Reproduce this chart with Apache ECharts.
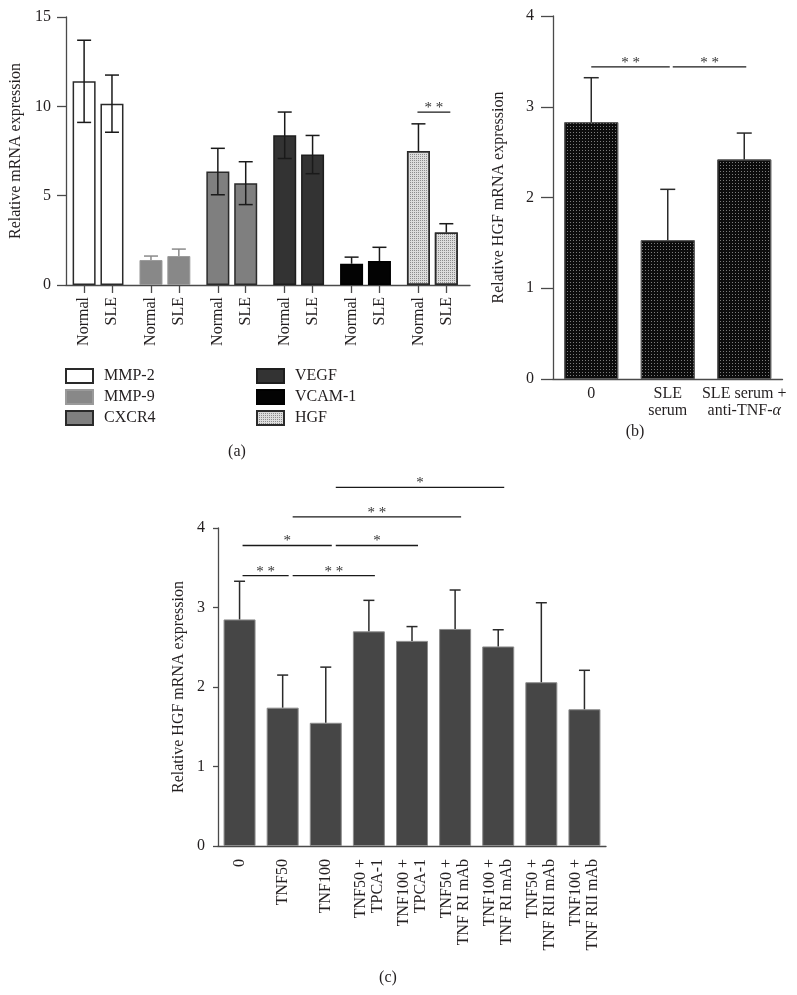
<!DOCTYPE html>
<html><head><meta charset="utf-8">
<script src="https://cdn.jsdelivr.net/npm/echarts@6/dist/echarts.min.js"></script>
<style>html,body{margin:0;padding:0;background:#fff}#c{width:797px;height:995px}</style>
</head><body><div id="c"></div>
<script>
// ---------- Panel (a) ----------
const genes = ['MMP-2', 'MMP-9', 'CXCR4', 'VEGF', 'VCAM-1', 'HGF'];
const groupLabels = ['Normal', 'SLE'];
const normalMean = [11.4, 1.40, 6.35, 8.38, 1.19, 7.50];
const normalSD   = [2.3, 0.22, 1.30, 1.30, 0.37, 1.52];
const sleMean    = [10.15, 1.62, 5.70, 7.30, 1.34, 2.94];
const sleSD      = [1.6, 0.39, 1.20, 1.07, 0.77, 0.49];
const aYTicks = [0, 5, 10, 15];
const aSig = [{ gene: 5, level: 9.68, text: '* *' }];

// ---------- Panel (b) ----------
const bCats = ['0', 'SLE\nserum', 'SLE serum +\nanti-TNF-α'];
const bMean = [2.83, 1.53, 2.42];
const bSD   = [0.49, 0.56, 0.29];
const bYTicks = [0, 1, 2, 3, 4];
const bSig = [[0, 1, 3.44, '* *'], [1, 2, 3.44, '* *']];

// ---------- Panel (c) ----------
const cCats = ['0', 'TNF50', 'TNF100', 'TNF50 +\nTPCA-1', 'TNF100 +\nTPCA-1',
  'TNF50 +\nTNF RI mAb', 'TNF100 +\nTNF RI mAb', 'TNF50 +\nTNF RII mAb', 'TNF100 +\nTNF RII mAb'];
const cMean = [2.85, 1.74, 1.55, 2.70, 2.58, 2.73, 2.51, 2.06, 1.72];
const cSD   = [0.48, 0.41, 0.70, 0.39, 0.18, 0.49, 0.21, 1.00, 0.49];
const cYTicks = [0, 1, 2, 3, 4];
const cSig = [[0, 1, 3.40, '* *'], [1, 3, 3.40, '* *'], [0, 2, 3.78, '*'], [2, 4, 3.78, '*'],
  [1, 5, 4.14, '* *'], [2, 6, 4.51, '*']];

// ---------- styles ----------
const FONT = "'Liberation Serif', 'Times New Roman', serif";
const TXT = '#231f20';
const AX = '#4a4a4a';
const geneStyle = [
  { color: '#ffffff', borderColor: '#2a2a2a', borderWidth: 1.5 },
  { color: '#888888', borderColor: '#9a9a9a', borderWidth: 1 },
  { color: '#7f7f7f', borderColor: '#2a2a2a', borderWidth: 1.5 },
  { color: '#333333', borderColor: '#1e1e1e', borderWidth: 1.5 },
  { color: '#030303', borderColor: '#000000', borderWidth: 1.5 },
  { color: '#dcdcdc', borderColor: '#2a2a2a', borderWidth: 1.5,
    decal: { symbol: 'rect', symbolSize: 1, dashArrayX: [1, 1], dashArrayY: [1, 1], color: '#8c8c8c' } }
];
const whiskerColor = ['#1a1a1a', '#8a8a8a', '#1a1a1a', '#1a1a1a', '#1a1a1a', '#1a1a1a'];
const whiskerLower = [true, false, true, true, false, false];
const STEP = 2.4;

const aPos = [], aLab = {};
genes.forEach((g, gi) => groupLabels.forEach((l, si) => {
  const p = gi * STEP + si; aPos.push(p); aLab[p.toFixed(2)] = l;
}));

function errRender(cap, lw) {
  return function (params, api) {
    const x = api.value(0), y = api.value(1), e = api.value(2), lower = api.value(3), ci = api.value(4);
    const col = (ci >= 0 && whiskerColor[ci]) ? whiskerColor[ci] : '#2a2a2a';
    const top = api.coord([x, y + e]);
    const bot = api.coord([x, lower ? y - e : y]);
    const st = { stroke: col, lineWidth: lw };
    const ch = [
      { type: 'line', shape: { x1: top[0], y1: top[1], x2: bot[0], y2: bot[1] }, style: st },
      { type: 'line', shape: { x1: top[0] - cap, y1: top[1], x2: top[0] + cap, y2: top[1] }, style: st }
    ];
    if (lower) ch.push({ type: 'line', shape: { x1: bot[0] - cap, y1: bot[1], x2: bot[0] + cap, y2: bot[1] }, style: st });
    return { type: 'group', children: ch };
  };
}
function sigRender(list, startOff, endOff, firstOff) {
  return function (params, api) {
    const i = api.value(0), j = api.value(1), lv = api.value(2);
    const p1 = api.coord([i, lv]), p2 = api.coord([j, lv]);
    const x1 = p1[0] + (i === 0 && firstOff != null ? firstOff : startOff);
    const x2 = p2[0] + endOff;
    const label = list[params.dataIndex][3];
    return { type: 'group', children: [
      { type: 'line', shape: { x1: x1, y1: p1[1], x2: x2, y2: p1[1] }, style: { stroke: '#1a1a1a', lineWidth: 1.3 } },
      { type: 'text', x: (x1 + x2) / 2, y: p1[1] - 4, style: { text: label, fontFamily: FONT, fontSize: 15, fill: '#333', align: 'center', verticalAlign: 'middle' } }
    ] };
  };
}

const legendBase = { orient: 'vertical', top: 368, itemWidth: 27, itemHeight: 14, itemGap: 5, padding: 0,
  icon: 'rect', selectedMode: false, textStyle: { fontFamily: FONT, fontSize: 16, color: TXT, padding: [0, 0, 0, 6] } };

const option = {
  animation: false,
  backgroundColor: '#fff',
  textStyle: { fontFamily: FONT },
  grid: [
    { left: 66, top: 17, width: 404, height: 268 },
    { left: 553, top: 16, width: 229.5, height: 363 },
    { left: 218, top: 528, width: 388, height: 318 }
  ],
  legend: [
    Object.assign({}, legendBase, { data: genes.slice(0, 3), left: 65 }),
    Object.assign({}, legendBase, { data: genes.slice(3), left: 256 })
  ],
  xAxis: [
    { gridIndex: 0, type: 'value', min: -0.65, max: 13.85, splitLine: { show: false },
      axisLine: { show: true, onZero: false, lineStyle: { color: AX, width: 1.3 } },
      axisTick: { show: true, customValues: aPos, length: 8, lineStyle: { color: AX, width: 1.3 } },
      axisLabel: { customValues: aPos, rotate: 90, margin: 12, fontSize: 16, color: TXT, fontFamily: FONT,
        formatter: v => aLab[(+v).toFixed(2)] || '' } },
    { gridIndex: 1, type: 'category', data: bCats,
      axisLine: { lineStyle: { color: AX, width: 1.3 } },
      axisTick: { alignWithLabel: true, length: 8, lineStyle: { color: AX, width: 1.3 } },
      axisLabel: { margin: 6, fontSize: 16, lineHeight: 17, color: TXT, fontFamily: FONT, interval: 0,
        formatter: v => v.replace('α', '{i|α}'),
        rich: { i: { fontStyle: 'italic', fontSize: 16, fontFamily: FONT, color: TXT } } } },
    { gridIndex: 2, type: 'category', data: cCats,
      axisLine: { lineStyle: { color: AX, width: 1.3 } },
      axisTick: { alignWithLabel: true, length: 8, lineStyle: { color: AX, width: 1.3 } },
      axisLabel: { rotate: 90, margin: 13, fontSize: 16, lineHeight: 17, color: TXT, fontFamily: FONT, interval: 0 } }
  ],
  yAxis: [
    { gridIndex: 0, type: 'value', min: aYTicks[0], max: aYTicks[aYTicks.length - 1], interval: 5, splitLine: { show: false },
      axisLine: { show: true, onZero: false, lineStyle: { color: AX, width: 1.3 } },
      axisTick: { show: true, length: 9, lineStyle: { color: AX, width: 1.3 } },
      axisLabel: { margin: 15, fontSize: 16, color: TXT, fontFamily: FONT },
      name: 'Relative mRNA expression', nameLocation: 'middle', nameGap: 38,
      nameTextStyle: { fontSize: 16, color: TXT, fontFamily: FONT } },
    { gridIndex: 1, type: 'value', min: bYTicks[0], max: bYTicks[bYTicks.length - 1], interval: 1, splitLine: { show: false },
      axisLine: { show: true, lineStyle: { color: AX, width: 1.3 } },
      axisTick: { show: true, length: 12, lineStyle: { color: AX, width: 1.3 } },
      axisLabel: { margin: 19, fontSize: 16, color: TXT, fontFamily: FONT },
      name: 'Relative HGF mRNA expression', nameLocation: 'middle', nameGap: 46,
      nameTextStyle: { fontSize: 16, color: TXT, fontFamily: FONT } },
    { gridIndex: 2, type: 'value', min: cYTicks[0], max: cYTicks[cYTicks.length - 1], interval: 1, splitLine: { show: false },
      axisLine: { show: true, lineStyle: { color: AX, width: 1.3 } },
      axisTick: { show: true, length: 5, lineStyle: { color: AX, width: 1.3 } },
      axisLabel: { margin: 13, fontSize: 16, color: TXT, fontFamily: FONT },
      name: 'Relative HGF mRNA expression', nameLocation: 'middle', nameGap: 31,
      nameTextStyle: { fontSize: 16, color: TXT, fontFamily: FONT } }
  ],
  graphic: [
    { type: 'text', x: 237, y: 452, style: { text: '(a)', fontFamily: FONT, fontSize: 16, fill: TXT, align: 'center', verticalAlign: 'middle' } },
    { type: 'text', x: 635, y: 432, style: { text: '(b)', fontFamily: FONT, fontSize: 16, fill: TXT, align: 'center', verticalAlign: 'middle' } },
    { type: 'text', x: 388, y: 978, style: { text: '(c)', fontFamily: FONT, fontSize: 16, fill: TXT, align: 'center', verticalAlign: 'middle' } }
  ],
  series: []
};

// panel (a) bars
genes.forEach((g, gi) => {
  option.series.push({
    type: 'bar', name: g, xAxisIndex: 0, yAxisIndex: 0, barWidth: 23, barGap: '-100%', z: 2,
    itemStyle: geneStyle[gi],
    data: [[gi * STEP, normalMean[gi]], [gi * STEP + 1, sleMean[gi]]]
  });
});
const aErr = [];
genes.forEach((g, gi) => {
  aErr.push([gi * STEP, normalMean[gi], normalSD[gi], whiskerLower[gi] ? 1 : 0, gi]);
  aErr.push([gi * STEP + 1, sleMean[gi], sleSD[gi], whiskerLower[gi] ? 1 : 0, gi]);
});
option.series.push({ type: 'custom', name: 'errA', xAxisIndex: 0, yAxisIndex: 0, z: 5, renderItem: errRender(7, 1.5),
  encode: { x: 0, y: 1 }, data: aErr, silent: true });
const aSigData = aSig.map(s => [s.gene * STEP, s.gene * STEP + 1, s.level, s.text]);
option.series.push({ type: 'custom', name: 'sigA', xAxisIndex: 0, yAxisIndex: 0, z: 5, clip: false,
  renderItem: sigRender(aSigData, -1, 4), encode: { x: 0, y: 2 },
  data: aSigData.map(s => [s[0], s[1], s[2]]), silent: true });

// panel (b)
option.series.push({ type: 'bar', name: 'b', xAxisIndex: 1, yAxisIndex: 1, barWidth: 54, z: 2,
  itemStyle: { color: '#0c0c0c', borderColor: '#5a5a5a', borderWidth: 1,
    decal: { symbol: 'rect', symbolSize: 1, dashArrayX: [1, 2], dashArrayY: [1, 2], color: '#7c7c7c' } },
  data: bMean });
option.series.push({ type: 'custom', name: 'errB', xAxisIndex: 1, yAxisIndex: 1, z: 5, renderItem: errRender(7.5, 1.5),
  encode: { x: 0, y: 1 }, data: bMean.map((m, i) => [i, m, bSD[i], 0, -1]), silent: true });
option.series.push({ type: 'custom', name: 'sigB', xAxisIndex: 1, yAxisIndex: 1, z: 5, clip: false,
  renderItem: sigRender(bSig, 5, 2, 0), encode: { x: 0, y: 2 }, data: bSig.map(s => [s[0], s[1], s[2]]), silent: true });

// panel (c)
option.series.push({ type: 'bar', name: 'c', xAxisIndex: 2, yAxisIndex: 2, barWidth: 32, z: 2,
  itemStyle: { color: '#464646', borderColor: '#8c8c8c', borderWidth: 1 }, data: cMean });
option.series.push({ type: 'custom', name: 'errC', xAxisIndex: 2, yAxisIndex: 2, z: 5, renderItem: errRender(5.5, 1.5),
  encode: { x: 0, y: 1 }, data: cMean.map((m, i) => [i, m, cSD[i], 0, -1]), silent: true });
option.series.push({ type: 'custom', name: 'sigC', xAxisIndex: 2, yAxisIndex: 2, z: 5, clip: false,
  renderItem: sigRender(cSig, 10, 6, 3), encode: { x: 0, y: 2 }, data: cSig.map(s => [s[0], s[1], s[2]]), silent: true });

const chart = echarts.init(document.getElementById('c'), null, { renderer: 'canvas' });
chart.setOption(option);
</script>
</body></html>
